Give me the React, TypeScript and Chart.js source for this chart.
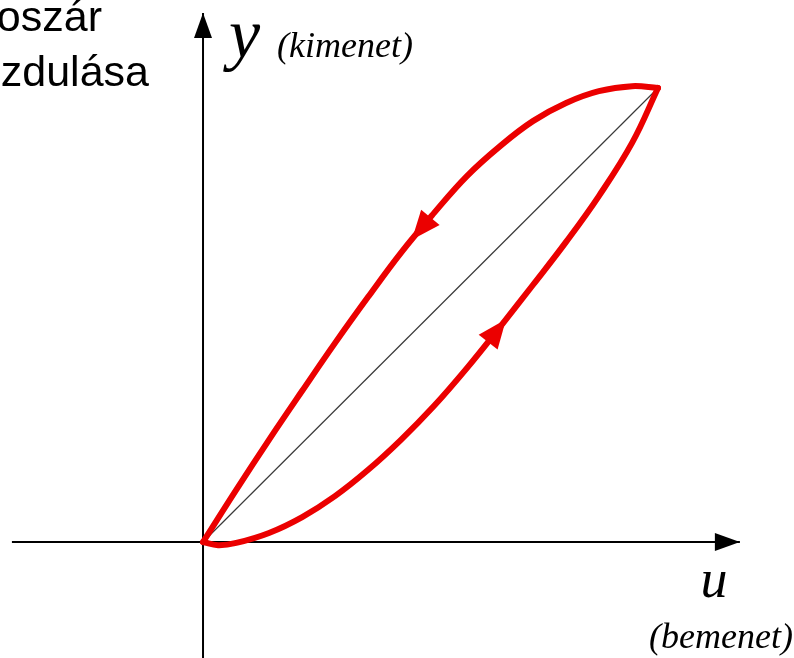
import { useEffect, useRef } from "react";
import { Chart, registerables } from "chart.js";

Chart.register(...registerables);

// Loop branches in normalised units (u = input, y = output)
// Falling branch: from the turning point back to the origin
const upperU = [1, 0.943, 0.87, 0.798, 0.725, 0.653, 0.58, 0.508, 0.435, 0.363, 0.29, 0.218, 0.145, 0.073, 0];
const upperY = [1, 1.004, 0.993, 0.967, 0.927, 0.872, 0.806, 0.725, 0.637, 0.54, 0.438, 0.333, 0.225, 0.115, 0];
// Rising branch: from the origin up to the turning point
const lowerU = [0, 0.033, 0.073, 0.145, 0.218, 0.29, 0.363, 0.435, 0.508, 0.58, 0.653, 0.725, 0.798, 0.87, 0.943, 1];
const lowerY = [0, -0.007, -0.002, 0.02, 0.055, 0.101, 0.159, 0.225, 0.3, 0.383, 0.474, 0.566, 0.661, 0.762, 0.879, 1];
// Ideal (hysteresis-free) characteristic
const idealU = [0, 1];
const idealY = [0, 1];
// Coordinate axes
const axisUX = [-0.42, 1.18];
const axisUY = [0, 0];
const axisYX = [0, 0];
const axisYY = [-0.26, 1.165];

// Input value at which each branch carries its direction arrow
const upperArrowAt = 0.459;
const lowerArrowAt = 0.666;

const RED = "rgb(235,0,0)";

const toPoints = (xs: number[], ys: number[]) => xs.map((x, i) => ({ x, y: ys[i] }));

function drawHead(
  ctx: CanvasRenderingContext2D,
  tx: number,
  ty: number,
  dx: number,
  dy: number,
  len: number,
  half: number,
  color: string
) {
  const n = Math.hypot(dx, dy) || 1;
  const ux = dx / n;
  const uy = dy / n;
  const bx = tx - ux * len;
  const by = ty - uy * len;
  ctx.save();
  ctx.fillStyle = color;
  ctx.beginPath();
  ctx.moveTo(tx, ty);
  ctx.lineTo(bx - uy * half, by + ux * half);
  ctx.lineTo(bx + uy * half, by - ux * half);
  ctx.closePath();
  ctx.fill();
  ctx.restore();
}

// Locate the value `at` on a branch (in travel order) and return the
// data point there plus the local direction of travel.
function locate(us: number[], ys: number[], at: number) {
  for (let i = 0; i < us.length - 1; i++) {
    const a = us[i];
    const b = us[i + 1];
    if ((at - a) * (at - b) <= 0 && a !== b) {
      const t = (at - a) / (b - a);
      return {
        x: at,
        y: ys[i] + t * (ys[i + 1] - ys[i]),
        du: b - a,
        dy: ys[i + 1] - ys[i],
      };
    }
  }
  return null;
}

const arrowPlugin = {
  id: "arrowHeads",
  afterDatasetsDraw(chart: any) {
    const ctx = chart.ctx as CanvasRenderingContext2D;
    const sx = chart.scales.x;
    const sy = chart.scales.y;
    // axis arrows at the far end of each axis line
    [3, 4].forEach((di) => {
      const pts = chart.getDatasetMeta(di).data;
      const a = pts[0];
      const b = pts[pts.length - 1];
      drawHead(ctx, b.x, b.y, b.x - a.x, b.y - a.y, 25, 9, "#000");
    });
    // direction arrows on the loop branches
    const marks: [number[], number[], number][] = [
      [upperU, upperY, upperArrowAt],
      [lowerU, lowerY, lowerArrowAt],
    ];
    marks.forEach(([us, ys, at]) => {
      const p = locate(us, ys, at);
      if (!p) return;
      const px = sx.getPixelForValue(p.x);
      const py = sy.getPixelForValue(p.y);
      const qx = sx.getPixelForValue(p.x + p.du);
      const qy = sy.getPixelForValue(p.y + p.dy);
      drawHead(ctx, px, py, qx - px, qy - py, 29, 12, RED);
    });
  },
};

const labelPlugin = {
  id: "labels",
  afterDraw(chart: any) {
    const ctx = chart.ctx as CanvasRenderingContext2D;
    ctx.save();
    ctx.fillStyle = "#000";
    ctx.textBaseline = "alphabetic";

    ctx.font = '43px "Liberation Sans", Arial, sans-serif';
    ctx.textAlign = "right";
    ctx.fillText("oszár", 102, 31);
    ctx.fillText("zdulása", 149, 86);

    ctx.textAlign = "left";
    ctx.font = 'italic 70px "Liberation Serif", serif';
    ctx.fillText("y", 229, 57);
    ctx.font = 'italic 36px "Liberation Serif", serif';
    ctx.fillText("(kimenet)", 277, 57);

    ctx.textAlign = "center";
    ctx.font = 'italic 54px "Liberation Serif", serif';
    ctx.fillText("u", 714, 597);
    ctx.textAlign = "right";
    ctx.font = 'italic 36px "Liberation Serif", serif';
    ctx.fillText("(bemenet)", 793, 648);
    ctx.restore();
  },
};

export default function App() {
  const canvasRef = useRef<HTMLCanvasElement | null>(null);

  useEffect(() => {
    if (!canvasRef.current) return;
    const chart = new Chart(canvasRef.current, {
      type: "scatter",
      data: {
        datasets: [
          {
            data: toPoints(upperU, upperY),
            borderColor: RED,
            borderWidth: 6,
            tension: 0.4,
            borderCapStyle: "round",
            borderJoinStyle: "round",
          } as any,
          {
            data: toPoints(lowerU, lowerY),
            borderColor: RED,
            borderWidth: 6,
            tension: 0.4,
            borderCapStyle: "round",
            borderJoinStyle: "round",
          } as any,
          {
            data: toPoints(idealU, idealY),
            borderColor: "#3a3a3a",
            borderWidth: 1.2,
          },
          {
            data: toPoints(axisUX, axisUY),
            borderColor: "#000",
            borderWidth: 2,
          },
          {
            data: toPoints(axisYX, axisYY),
            borderColor: "#000",
            borderWidth: 2,
          },
        ].map((d) => ({ showLine: true, pointRadius: 0, pointHoverRadius: 0, fill: false, ...d })),
      },
      options: {
        animation: false,
        responsive: false,
        events: [],
        layout: { padding: 0 },
        plugins: {
          legend: { display: false },
          tooltip: { enabled: false },
        },
        scales: {
          x: { type: "linear", display: false, min: -0.4462, max: 1.2989 },
          y: { type: "linear", display: false, min: -0.2555, max: 1.1938 },
        },
      },
      plugins: [arrowPlugin, labelPlugin],
    });
    return () => chart.destroy();
  }, []);

  return (
    <div style={{ position: "fixed", left: 0, top: 0, width: 794, height: 658, background: "#fff" }}>
      <canvas ref={canvasRef} width={794} height={658} />
    </div>
  );
}
